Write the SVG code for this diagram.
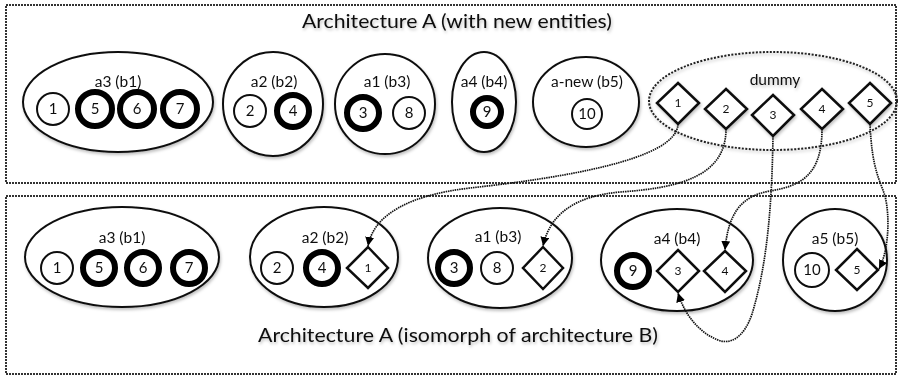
<svg xmlns="http://www.w3.org/2000/svg" width="898" height="376" viewBox="0 0 898 376">
<style>
text{font-family:Lato,"Open Sans","Liberation Sans",sans-serif;fill:#111;text-anchor:middle}
.title{font-size:18.5px}
.lbl{font-size:15.5px}
.num{font-size:15px}
.dnum{font-size:12px}
.box{fill:none;stroke:#333;stroke-width:2;stroke-dasharray:2 1}
.grp{fill:#fff;stroke:#111;stroke-width:2}
.dum{fill:none;stroke:#222;stroke-width:2;stroke-dasharray:2 1.5}
.c{fill:#fff;stroke:#111;stroke-width:2}
.ct{fill:#fff;stroke:#000;stroke-width:6}
.d{fill:#fff;stroke:#111;stroke-width:2.5}
.edge{fill:none;stroke:#111;stroke-width:1.7;stroke-dasharray:1.5 0.8}
</style>
<defs>
<filter id="sh" x="-10%" y="-10%" width="130%" height="140%">
<feDropShadow dx="1" dy="2" stdDeviation="1.5" flood-color="#000" flood-opacity="0.25"/>
</filter>
<marker id="ah" viewBox="0 0 10 10" refX="10" refY="5" markerWidth="9" markerHeight="9" markerUnits="userSpaceOnUse" orient="auto">
<path d="M0,0 L10,5 L0,10 Z" fill="#000"/>
</marker>
</defs>

<g id="frames">
<rect class="box" x="6" y="5" width="890" height="178"/>
<rect class="box" x="6" y="196" width="890" height="178"/>
<text class="title" x="457" y="28" textLength="310" lengthAdjust="spacingAndGlyphs" filter="url(#sh)">Architecture A (with new entities)</text>
<text class="title" x="458" y="342" textLength="400" lengthAdjust="spacingAndGlyphs" filter="url(#sh)">Architecture A (isomorph of architecture B)</text>
</g>

<g filter="url(#sh)">
<!-- Top row -->
<g id="top-a3">
<ellipse class="grp" cx="118" cy="102" rx="95" ry="50"/>
<text class="lbl" x="118" y="87">a3 (b1)</text>
<circle class="c" cx="53" cy="109" r="16"/><text class="num" x="53" y="114">1</text>
<circle class="ct" cx="95" cy="109" r="17"/><text class="num" x="95" y="114">5</text>
<circle class="ct" cx="137" cy="109" r="17"/><text class="num" x="137" y="114">6</text>
<circle class="ct" cx="180" cy="109" r="17"/><text class="num" x="180" y="114">7</text>
</g>
<g id="top-a2">
<ellipse class="grp" cx="273" cy="104" rx="50" ry="52"/>
<text class="lbl" x="274" y="87">a2 (b2)</text>
<circle class="c" cx="250" cy="111" r="16"/><text class="num" x="250" y="116">2</text>
<circle class="ct" cx="293" cy="111" r="16"/><text class="num" x="293" y="116">4</text>
</g>
<g id="top-a1">
<ellipse class="grp" cx="385" cy="104" rx="50" ry="50"/>
<text class="lbl" x="387" y="87">a1 (b3)</text>
<circle class="ct" cx="363" cy="113" r="16"/><text class="num" x="363" y="118">3</text>
<circle class="c" cx="409" cy="113" r="16"/><text class="num" x="409" y="118">8</text>
</g>
<g id="top-a4">
<ellipse class="grp" cx="484" cy="102" rx="32" ry="50"/>
<text class="lbl" x="484" y="87">a4 (b4)</text>
<circle class="ct" cx="487" cy="112" r="14"/><text class="num" x="487" y="117">9</text>
</g>
<g id="top-anew">
<ellipse class="grp" cx="586" cy="102" rx="53" ry="45"/>
<text class="lbl" x="587" y="87">a-new (b5)</text>
<circle class="c" cx="587" cy="114" r="15"/><text class="num" x="587" y="119">10</text>
</g>
<g id="top-dummy">
<ellipse class="dum" cx="773" cy="101" rx="124" ry="49"/>
<text class="lbl" x="775" y="85">dummy</text>
<path class="d" d="M678,83 L699,103 L678,124 L657,103 Z"/><text class="dnum" x="678" y="107">1</text>
<path class="d" d="M726,89 L747,109 L726,129 L705,109 Z"/><text class="dnum" x="726" y="113">2</text>
<path class="d" d="M773,95 L794,115 L773,136 L752,115 Z"/><text class="dnum" x="773" y="119">3</text>
<path class="d" d="M822,89 L843,109 L822,129 L801,109 Z"/><text class="dnum" x="822" y="113">4</text>
<path class="d" d="M870,83 L891,103 L870,124 L849,103 Z"/><text class="dnum" x="870" y="107">5</text>
</g>

<!-- Bottom row -->
<g id="bot-a3">
<ellipse class="grp" cx="122" cy="257" rx="97" ry="50"/>
<text class="lbl" x="122" y="243">a3 (b1)</text>
<circle class="c" cx="57" cy="268" r="16"/><text class="num" x="57" y="273">1</text>
<circle class="ct" cx="99" cy="268" r="16"/><text class="num" x="99" y="273">5</text>
<circle class="ct" cx="143" cy="268" r="16"/><text class="num" x="143" y="273">6</text>
<circle class="ct" cx="189" cy="268" r="16"/><text class="num" x="189" y="273">7</text>
</g>
<g id="bot-a2">
<ellipse class="grp" cx="324" cy="257" rx="74" ry="50"/>
<text class="lbl" x="325" y="243">a2 (b2)</text>
<circle class="c" cx="277" cy="268" r="16"/><text class="num" x="277" y="273">2</text>
<circle class="ct" cx="322" cy="268" r="16"/><text class="num" x="322" y="273">4</text>
<path class="d" d="M368,247 L388,268 L368,288 L347,268 Z"/><text class="dnum" x="368" y="272">1</text>
</g>
<g id="bot-a1">
<ellipse class="grp" cx="500" cy="258" rx="72" ry="50"/>
<text class="lbl" x="498" y="242">a1 (b3)</text>
<circle class="ct" cx="454" cy="268" r="16"/><text class="num" x="454" y="273">3</text>
<circle class="c" cx="497" cy="268" r="16"/><text class="num" x="497" y="273">8</text>
<path class="d" d="M543,247 L563,268 L543,289 L523,268 Z"/><text class="dnum" x="543" y="272">2</text>
</g>
<g id="bot-a4">
<ellipse class="grp" cx="677" cy="260" rx="76" ry="51"/>
<text class="lbl" x="677" y="244">a4 (b4)</text>
<circle class="ct" cx="633" cy="271" r="16"/><text class="num" x="633" y="276">9</text>
<path class="d" d="M678,250 L699,271 L678,292 L657,271 Z"/><text class="dnum" x="678" y="275">3</text>
<path class="d" d="M725,251 L746,271 L725,292 L704,271 Z"/><text class="dnum" x="725" y="275">4</text>
</g>
<g id="bot-a5">
<ellipse class="grp" cx="835" cy="260" rx="52" ry="51"/>
<text class="lbl" x="835" y="244">a5 (b5)</text>
<circle class="c" cx="812" cy="270" r="17"/><text class="num" x="812" y="275">10</text>
<path class="d" d="M857,249 L878,270 L857,290 L836,270 Z"/><text class="dnum" x="857" y="274">5</text>
</g>
</g>

<g id="connectors">
<path class="edge" marker-end="url(#ah)" d="M678,124 C677,160 560,178 470,188 C410,195 374,214 368,246"/>
<path class="edge" marker-end="url(#ah)" d="M726,129 C726,176 680,188 620,192 C575,196 550,214 543,246"/>
<path class="edge" marker-end="url(#ah)" d="M773,136 C772,200 768,262 752,314 C744,338 730,345 718,340 C700,333 685,316 678,293"/>
<path class="edge" marker-end="url(#ah)" d="M822,129 C822,176 800,186 770,191 C740,196 728,215 725,250"/>
<path class="edge" marker-end="url(#ah)" d="M870,124 C872,170 880,180 885,196 C890,216 889,250 879,269"/>
</g>
</svg>
